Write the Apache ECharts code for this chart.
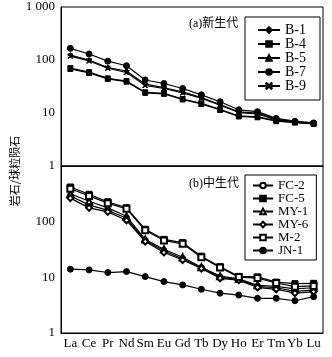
<!DOCTYPE html>
<html>
<head>
<meta charset="utf-8">
<script src="https://cdn.jsdelivr.net/npm/echarts@6/dist/echarts.min.js"></script>
<style>
  html, body { margin: 0; padding: 0; background: #fff; }
  #chart { width: 332px; height: 357px; }
</style>
</head>
<body>
<div id="chart"></div>
<script>
const elements = ['La', 'Ce', 'Pr', 'Nd', 'Sm', 'Eu', 'Gd', 'Tb', 'Dy', 'Ho', 'Er', 'Tm', 'Yb', 'Lu']

// (a) 新生代
const b1 = [124, 100, 72, 62, 35, 30, 25, 19.5, 14.5, 10.5, 10.0, 7.6, 6.8, 6.4]
const b4 = [70, 59, 45, 40, 24.6, 23.6, 18.4, 15.2, 11.7, 8.8, 8.5, 7.2, 6.7, 6.3]
const b5 = [68, 57, 44, 39, 24, 23, 18, 14.8, 11.4, 8.6, 8.3, 7.0, 6.6, 6.2]
const b7 = [166, 130, 95, 78, 42, 36, 29, 22, 16.3, 11.5, 10.6, 7.9, 7.0, 6.5]
const b9 = [118, 96, 70, 58, 33, 29, 24, 19, 14, 10.2, 9.6, 7.4, 6.7, 6.3]

// (b) 中生代
const fc2 = [290, 200, 160, 115, 46, 30, 21.5, 14.8, 10, 9.2, 6.9, 6.5, 5.6, 5.9]
const fc5 = [420, 310, 228, 178, 73, 48, 42, 24, 15.5, 10.4, 10.2, 8.2, 7.7, 7.8]
const my1 = [318, 233, 177, 125, 48, 32, 23, 15.2, 10.5, 9.4, 7.2, 6.9, 6.2, 6.5]
const my6 = [265, 177, 150, 106, 44, 28, 20.5, 14.4, 9.6, 8.9, 6.6, 6.1, 5.2, 5.5]
const m2 = [390, 290, 215, 170, 70, 46, 40, 23, 15, 10.1, 9.7, 7.9, 6.8, 7.0]
const jn1 = [14, 13.6, 12.2, 12.7, 10.3, 8.4, 7.3, 6.1, 5.2, 4.8, 4.2, 4.2, 3.8, 4.5]

const serif = "'Liberation Serif', 'Noto Sans CJK SC', serif"
const crossPath = 'path://M0,1 L1,0 L5,4 L9,0 L10,1 L6,5 L10,9 L9,10 L5,6 L1,10 L0,9 L4,5 Z'

function line(name, data, idx, symbol, size) {
  return {
    name,
    type: 'line',
    data,
    xAxisIndex: idx,
    yAxisIndex: idx,
    symbol,
    symbolSize: size,
    showAllSymbol: true,
    lineStyle: { color: '#000', width: 1.2 },
    itemStyle: { color: '#000', borderColor: '#000', borderWidth: 1 },
    animation: false
  }
}

function xAxis(idx, showLabel) {
  return {
    type: 'category',
    gridIndex: idx,
    data: elements,
    boundaryGap: true,
    axisLine: { lineStyle: { color: '#000', width: 1 } },
    axisTick: { inside: true, alignWithLabel: true, length: 4, lineStyle: { color: '#000' } },
    axisLabel: { show: showLabel, color: '#000', fontFamily: serif, fontSize: 13, margin: 4, interval: 0 },
    splitLine: { show: false }
  }
}

function yAxis(idx, showMax) {
  return {
    type: 'log',
    gridIndex: idx,
    logBase: 10,
    min: 1,
    max: 1000,
    axisLine: { show: true, lineStyle: { color: '#000', width: 1 } },
    axisTick: { inside: true, length: 4, lineStyle: { color: '#000' } },
    minorTick: { show: false },
    splitLine: { show: false },
    axisLabel: {
      color: '#000',
      fontFamily: serif,
      fontSize: 13,
      margin: 6,
      showMaxLabel: showMax,
      formatter: v => (v === 1000 ? '1 000' : String(v))
    }
  }
}

function legend(names, top, fontSize, lh, pad, iw) {
  return {
    data: names,
    orient: 'vertical',
    left: 245,
    top,
    padding: pad,
    itemGap: 0,
    itemWidth: iw,
    itemHeight: 7,
    borderColor: '#000',
    borderWidth: 1,
    textStyle: { color: '#000', fontFamily: serif, fontSize, lineHeight: lh }
  }
}

const chart = echarts.init(document.getElementById('chart'))
chart.setOption({
  backgroundColor: '#fff',
  grid: [
    { left: 61, top: 7, width: 262, height: 159, show: true, borderColor: '#000', borderWidth: 1 },
    { left: 61, top: 166, width: 262, height: 167, show: true, borderColor: '#000', borderWidth: 1 }
  ],
  xAxis: [xAxis(0, false), xAxis(1, true)],
  yAxis: [yAxis(0, true), yAxis(1, false)],
  legend: [
    legend(['B-1', 'B-4', 'B-5', 'B-7', 'B-9'], 17, 14, 14, [6, 14, 7, 12], 22),
    legend(['FC-2', 'FC-5', 'MY-1', 'MY-6', 'M-2', 'JN-1'], 175, 13, 12.8, [4, 8, 3, 7], 20)
  ],
  graphic: [
    {
      type: 'text', left: 189, top: 18,
      style: { text: '(a)新生代', font: "12px 'Liberation Serif', 'Noto Sans CJK SC'", fill: '#000' }
    },
    {
      type: 'text', left: 189, top: 178,
      style: { text: '(b)中生代', font: "12px 'Liberation Serif', 'Noto Sans CJK SC'", fill: '#000' }
    },
    {
      type: 'text', x: 15, y: 171, rotation: Math.PI / 2,
      style: { text: '岩石/球粒陨石', font: "11px 'Noto Sans CJK SC'", fill: '#000', align: 'center', verticalAlign: 'middle' }
    }
  ],
  series: [
    line('B-1', b1, 0, 'diamond', 5),
    line('B-4', b4, 0, 'rect', 5),
    line('B-5', b5, 0, 'triangle', 5),
    line('B-7', b7, 0, 'circle', 6),
    line('B-9', b9, 0, crossPath, 5),
    line('FC-2', fc2, 1, 'emptyCircle', 5),
    line('FC-5', fc5, 1, 'rect', 6),
    line('MY-1', my1, 1, 'emptyTriangle', 6),
    line('MY-6', my6, 1, 'emptyDiamond', 6),
    line('M-2', m2, 1, 'emptyRect', 6),
    line('JN-1', jn1, 1, 'circle', 6)
  ]
})
</script>
</body>
</html>
